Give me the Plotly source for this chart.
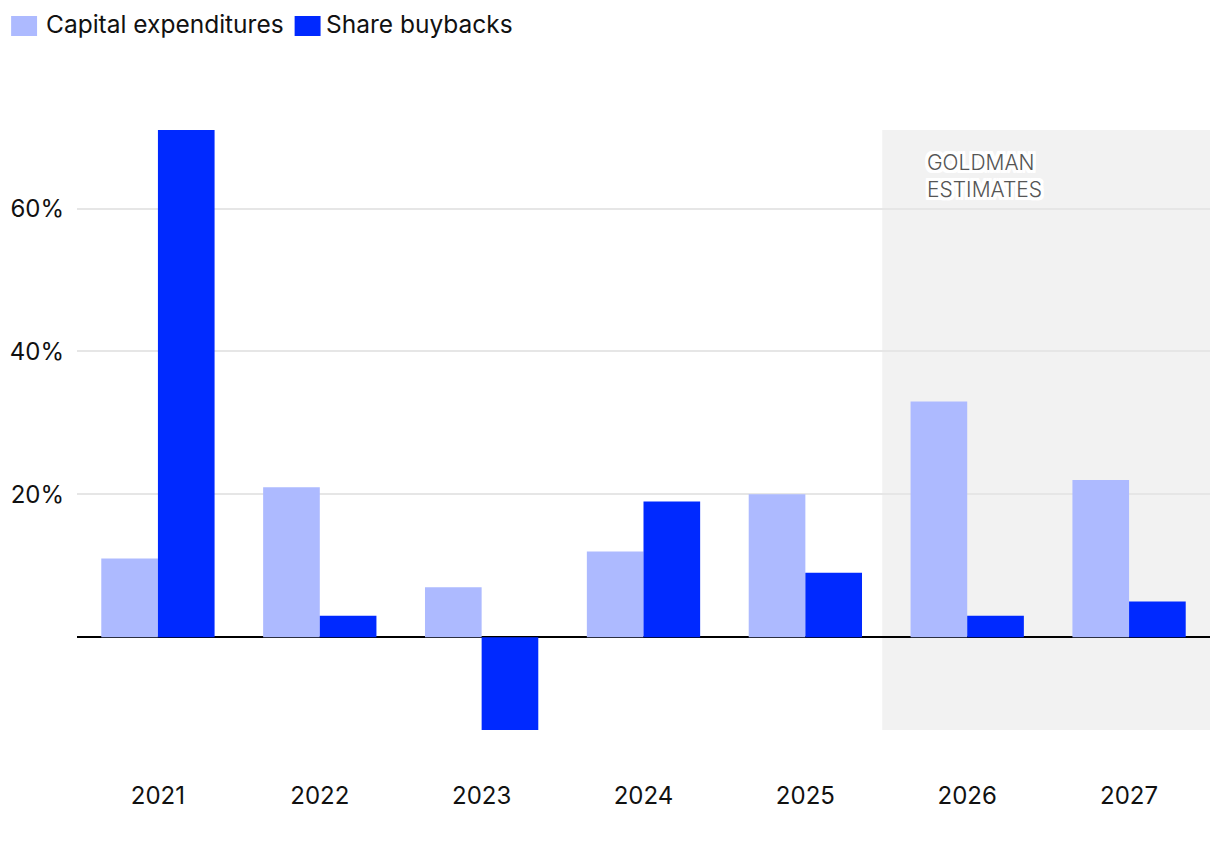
import plotly.graph_objects as go

years = ["2021", "2022", "2023", "2024", "2025", "2026", "2027"]
capex = [11, 21, 7, 12, 20, 33, 22]
buybacks = [71, 3, -13, 19, 9, 3, 5]
series_names = ["Capital expenditures", "Share buybacks"]
colors = ["#adbaff", "#0029ff"]
ytick_vals = [20, 40, 60]
ytick_text = ["20%", "40%", "60%"]
estimate_start = "2026"
annotation_text = "GOLDMAN<br>ESTIMATES"

W, H = 1220, 842
ML, MR, MT, MB = 75, 10, 130, 112
PW, PH = W - ML - MR, H - MT - MB


def px(x):
    return (x - ML) / PW


def py(y):
    return (H - MB - y) / PH


FONT = "Inter, 'Open Sans', sans-serif"

fig = go.Figure()
fig.add_trace(go.Bar(x=years, y=capex, name=series_names[0], marker_color=colors[0],
                     marker_line_width=0, showlegend=False))
fig.add_trace(go.Bar(x=years, y=buybacks, name=series_names[1], marker_color=colors[1],
                     marker_line_width=0, showlegend=False))

ymin = min(min(capex), min(buybacks))
ymax = max(max(capex), max(buybacks))
i0 = years.index(estimate_start)

# shaded estimates region
fig.add_shape(type="rect", xref="x", yref="y", x0=i0 - 0.525, x1=len(years) - 0.5,
              y0=ymin, y1=ymax, fillcolor="#f2f2f2", line_width=0, layer="below")

halo = ", ".join(f"{dx}px {dy}px 0 #fff" for dx in (-3, -2, 0, 2, 3) for dy in (-3, -2, 0, 2, 3))
fig.add_annotation(xref="x", yref="y", x=i0 - 0.5 + 0.237, y=ymax - 2.55,
                   xanchor="left", yanchor="top", align="left", showarrow=False,
                   text=annotation_text,
                   font=dict(family=FONT, size=21, color="#555555", weight=300,
                             shadow=halo))

# manual legend
leg = [(9, 35, 42, series_names[0], colors[0]), (293, 319, 322, series_names[1], colors[1])]
for x0, x1, tx, name, c in leg:
    fig.add_shape(type="rect", xref="paper", yref="paper", x0=px(x0), x1=px(x1),
                  y0=py(36), y1=py(16), fillcolor=c, line_width=0)
    fig.add_annotation(xref="paper", yref="paper", x=px(tx), y=py(24), xanchor="left",
                       yanchor="middle", showarrow=False, text=name,
                       font=dict(family=FONT, size=24.5, color="#111111"))

fig.update_layout(
    width=W, height=H,
    margin=dict(l=ML, r=MR, t=MT, b=MB),
    barmode="group", bargap=0.3, bargroupgap=0,
    plot_bgcolor="white", paper_bgcolor="white",
    font=dict(family=FONT, size=24, color="#111111"),
    xaxis=dict(type="category", range=[-0.5, len(years) - 0.5], showgrid=False,
               showline=False, ticks="", ticklabelstandoff=49,
               tickfont=dict(size=24, color="#111111")),
    yaxis=dict(range=[ymin, ymax], tickvals=ytick_vals, ticktext=ytick_text,
               showgrid=True, gridcolor="#e6e6e6", gridwidth=1.5,
               zeroline=True, zerolinecolor="#000000", zerolinewidth=2,
               showline=False, ticks="", ticklabelstandoff=12,
               tickfont=dict(size=24, color="#111111")),
)

fig.write_html("out.html")
